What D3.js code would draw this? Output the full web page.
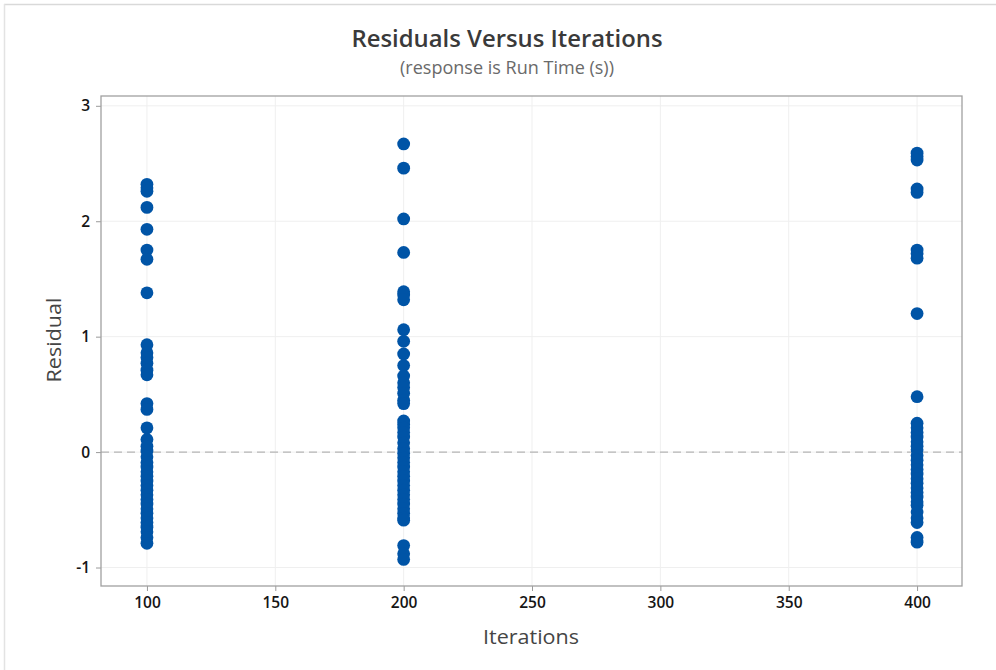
<!DOCTYPE html>
<html>
<head>
<meta charset="utf-8">
<script src="https://cdn.jsdelivr.net/npm/d3@7"></script>
<style>
  html, body { margin: 0; padding: 0; background: #fff; }
  svg { display: block; }
</style>
</head>
<body>
<svg id="chart" width="996" height="670"></svg>
<script>
// Residuals for each iteration setting
const iterations = [100, 200, 400];

const residuals100 = [
  2.32, 2.29, 2.26, 2.12, 1.93, 1.75, 1.67, 1.38,
  0.93, 0.86, 0.82, 0.77, 0.71, 0.67,
  0.42, 0.37, 0.21, 0.11, 0.05,
  0.01, -0.04, -0.09, -0.13, -0.17, -0.21, -0.25, -0.29, -0.33,
  -0.37, -0.41, -0.45, -0.49, -0.53, -0.57, -0.61,
  -0.65, -0.69, -0.74, -0.79
];

const residuals200 = [
  2.67, 2.46, 2.02, 1.73, 1.39, 1.36, 1.32,
  1.06, 0.96, 0.85, 0.75, 0.66, 0.60, 0.56, 0.51, 0.45, 0.42,
  0.27, 0.24, 0.21, 0.17, 0.13, 0.08, 0.03,
  -0.01, -0.05, -0.09, -0.13, -0.17, -0.21, -0.25, -0.29,
  -0.33, -0.37, -0.41, -0.45, -0.49, -0.53, -0.57, -0.59,
  -0.81, -0.88, -0.93
];

const residuals400 = [
  2.59, 2.56, 2.53, 2.28, 2.25, 1.75, 1.72, 1.68, 1.20, 0.48,
  0.25, 0.21, 0.17, 0.13, 0.09, 0.05, 0.02,
  -0.03, -0.07, -0.11, -0.15, -0.19, -0.23, -0.27, -0.31, -0.35, -0.39, -0.43, -0.46,
  -0.52, -0.57, -0.61, -0.74, -0.78
];

const xTicks = [100, 150, 200, 250, 300, 350, 400];
const yTicks = [-1, 0, 1, 2, 3];

const titleText = "Residuals Versus Iterations";
const subtitleText = "(response is Run Time (s))";
const xLabel = "Iterations";
const yLabel = "Residual";

const series = [residuals100, residuals200, residuals400];
const points = [];
series.forEach((vals, i) => vals.forEach(v => points.push({ x: iterations[i], y: v })));

const svg = d3.select("#chart");
const font = "'Open Sans', 'Noto Sans', sans-serif";

// Outer panel edge (top and left)
svg.append("line").attr("x1", 4).attr("x2", 996).attr("y1", 4.5).attr("y2", 4.5)
  .attr("stroke", "#d9d9d9").attr("stroke-width", 1.5);
svg.append("line").attr("x1", 4.5).attr("x2", 4.5).attr("y1", 4).attr("y2", 670)
  .attr("stroke", "#e3e3e3").attr("stroke-width", 1.5);

const plot = { left: 101, right: 962, top: 96, bottom: 586 };

const x = d3.scaleLinear().domain([82.1, 417.5]).range([plot.left, plot.right]);
const y = d3.scaleLinear().domain([-1.16, 3.085]).range([plot.bottom, plot.top]);

// Gridlines
const grid = svg.append("g");
grid.selectAll("line.vx").data(xTicks).join("line")
  .attr("x1", d => x(d)).attr("x2", d => x(d))
  .attr("y1", plot.top).attr("y2", plot.bottom)
  .attr("stroke", "#efefef").attr("stroke-width", 1);
grid.selectAll("line.hy").data(yTicks).join("line")
  .attr("x1", plot.left).attr("x2", plot.right)
  .attr("y1", d => y(d)).attr("y2", d => y(d))
  .attr("stroke", "#efefef").attr("stroke-width", 1);

// Zero reference line
svg.append("line")
  .attr("x1", plot.left).attr("x2", plot.right)
  .attr("y1", y(0)).attr("y2", y(0))
  .attr("stroke", "#b5b5b5").attr("stroke-width", 1.2)
  .attr("stroke-dasharray", "8,5");

// Axes (plain hyphen for negatives)
const fmt = d => String(d);
const xAxis = svg.append("g")
  .attr("transform", `translate(0,${plot.bottom})`)
  .call(d3.axisBottom(x).tickValues(xTicks).tickSize(5).tickPadding(6).tickFormat(fmt));
const yAxis = svg.append("g")
  .attr("transform", `translate(${plot.left},0)`)
  .call(d3.axisLeft(y).tickValues(yTicks).tickSize(5).tickPadding(6).tickFormat(fmt));

[xAxis, yAxis].forEach(a => {
  a.select(".domain").remove();
  a.selectAll(".tick line").attr("stroke", "#9a9a9a");
  a.selectAll(".tick text").attr("font-family", font).attr("font-size", 15.5)
    .attr("font-weight", 600).attr("fill", "#151515");
});

// Plot frame
svg.append("rect")
  .attr("x", plot.left).attr("y", plot.top)
  .attr("width", plot.right - plot.left).attr("height", plot.bottom - plot.top)
  .attr("fill", "none").attr("stroke", "#a0a0a0").attr("stroke-width", 1.3);

// Points
svg.append("g").selectAll("circle").data(points).join("circle")
  .attr("cx", d => x(d.x)).attr("cy", d => y(d.y))
  .attr("r", 6.4)
  .attr("fill", "#0054a6");

// Titles
svg.append("text").attr("x", 507).attr("y", 47)
  .attr("text-anchor", "middle").attr("font-family", font)
  .attr("font-size", 22.5).attr("font-weight", 600).attr("fill", "#3a3a3a")
  .attr("textLength", 311).attr("lengthAdjust", "spacingAndGlyphs")
  .text(titleText);
svg.append("text").attr("x", 507).attr("y", 74)
  .attr("text-anchor", "middle").attr("font-family", font)
  .attr("font-size", 18).attr("fill", "#6a6a6a")
  .attr("textLength", 214).attr("lengthAdjust", "spacingAndGlyphs")
  .text(subtitleText);

// Axis labels
svg.append("text").attr("x", 531).attr("y", 644)
  .attr("text-anchor", "middle").attr("font-family", font)
  .attr("font-size", 20.5).attr("font-weight", 500).attr("fill", "#454545")
  .attr("textLength", 96).attr("lengthAdjust", "spacingAndGlyphs")
  .text(xLabel);
svg.append("text")
  .attr("transform", `translate(61,340) rotate(-90)`)
  .attr("text-anchor", "middle").attr("font-family", font)
  .attr("font-size", 20.5).attr("font-weight", 500).attr("fill", "#454545")
  .attr("textLength", 85).attr("lengthAdjust", "spacingAndGlyphs")
  .text(yLabel);
</script>
</body>
</html>
